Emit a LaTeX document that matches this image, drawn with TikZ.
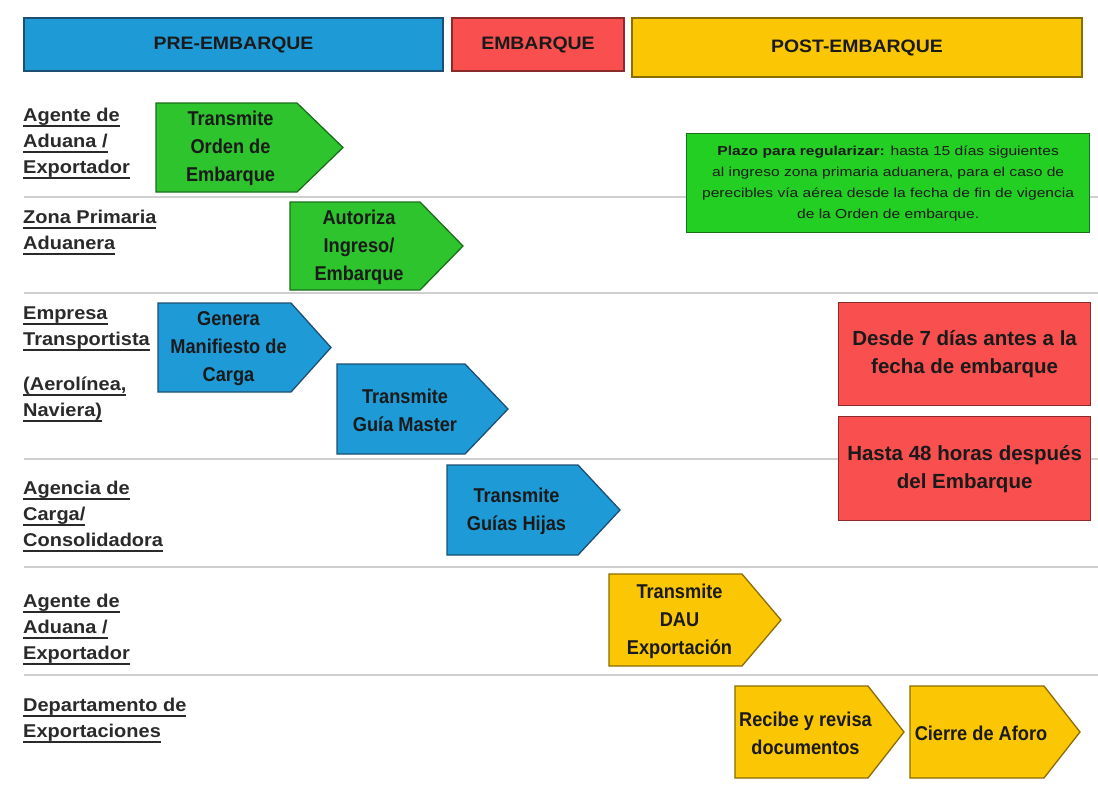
\documentclass[tikz,border=0pt]{standalone}
\usepackage{fontspec}
\setmainfont{Liberation Sans}[FakeStretch=1.08]
\newfontfamily\notefont{Liberation Sans}[FakeStretch=1.2]
\newfontfamily\stepfont{Liberation Sans}[FakeStretch=0.91]
\newfontfamily\boxfont{Liberation Sans}[FakeStretch=1.0]

% underlined word group, rule set below the descenders
\newcommand{\lineu}[1]{\setbox0\hbox{#1}\rlap{\rule[-5.5pt]{\wd0}{1.7pt}}\box0}

\definecolor{blueF}{HTML}{1E9BD7}
\definecolor{blueD}{HTML}{1C4F73}
\definecolor{greenF}{HTML}{2EC42E}
\definecolor{greenD}{HTML}{1B6E1B}
\definecolor{noteF}{HTML}{22CF22}
\definecolor{redF}{HTML}{F9504F}
\definecolor{redD}{HTML}{8A2A2A}
\definecolor{yellowF}{HTML}{FBC704}
\definecolor{yellowD}{HTML}{8A6D00}
\definecolor{inkC}{HTML}{1A1A1A}
\definecolor{laneC}{HTML}{2A2A2A}
\definecolor{ruleC}{HTML}{CFCFCF}

% pentagon step: name, style, left, top, body right, tip, bottom, text
\newcommand{\stepshape}[8]{%
  \draw[#2] (#3,#4) -- (#5,#4) -- (#6,{(#4+#7)/2}) -- (#5,#7) -- (#3,#7) -- cycle;
  \node[steptext] (#1) at ({(#3+#5)/2+4},{(#4+#7)/2+1}) {#8};
}

\begin{document}
\begin{tikzpicture}[x=1pt,y=-1pt,
  phase/.style={draw, line width=1.5pt, inner sep=0pt, outer sep=0pt, anchor=north west,
    text=inkC, font=\fontsize{18}{22}\selectfont\bfseries},
  lanerule/.style={draw=ruleC, line width=1.6pt},
  lanelabel/.style={anchor=base west, align=left, inner sep=0pt, text=laneC,
    font=\fontsize{18.5}{26}\selectfont\bfseries},
  steptext/.style={align=center, inner sep=0pt, text=inkC,
    font=\stepfont\fontsize{20}{28}\selectfont\bfseries},
  greenstep/.style={fill=greenF, draw=greenD, line width=1.3pt, line join=miter},
  bluestep/.style={fill=blueF, draw=blueD, line width=1.3pt, line join=miter},
  yellowstep/.style={fill=yellowF, draw=yellowD, line width=1.3pt, line join=miter},
  rednote/.style={fill=redF, draw=redD, line width=1.3pt, anchor=north west, inner sep=0pt,
    minimum width=252, align=center, text=inkC, font=\boxfont\fontsize{20.5}{28}\selectfont\bfseries},
]
\useasboundingbox (0,0) rectangle (1098,796);
\fill[white] (0,0) rectangle (1098,796);

% phase headers
\node[phase, fill=blueF, draw=blueD, minimum width=419, minimum height=53] (pre) at (24,18) {PRE-EMBARQUE};
\node[phase, fill=redF, draw=redD, minimum width=172, minimum height=53] (emb) at (452,18) {EMBARQUE};
\node[phase, fill=yellowF, draw=yellowD, minimum width=450, minimum height=59] (post) at (632,18) {POST-EMBARQUE};

% lane separators
\draw[lanerule] (24,197) -- (1098,197);
\draw[lanerule] (24,293) -- (1098,293);
\draw[lanerule] (24,459) -- (1098,459);
\draw[lanerule] (24,567) -- (1098,567);
\draw[lanerule] (24,675) -- (1098,675);

% lane labels (placed by the baseline of their last line)
\node[lanelabel] (l1) at (23,173) {\lineu{Agente de}\\\lineu{Aduana /}\\\lineu{Exportador}};
\node[lanelabel] (l2) at (23,249) {\lineu{Zona Primaria}\\\lineu{Aduanera}};
\node[lanelabel] (l3a) at (23,345) {\lineu{Empresa}\\\lineu{Transportista}};
\node[lanelabel] (l3b) at (23,416) {\lineu{(Aerolínea,}\\\lineu{Naviera)}};
\node[lanelabel] (l4) at (23,546) {\lineu{Agencia de}\\\lineu{Carga/}\\\lineu{Consolidadora}};
\node[lanelabel] (l5) at (23,659) {\lineu{Agente de}\\\lineu{Aduana /}\\\lineu{Exportador}};
\node[lanelabel] (l6) at (23,737) {\lineu{Departamento de}\\\lineu{Exportaciones}};

% process steps
\stepshape{s1}{greenstep}{156}{103}{297}{343}{192}{Transmite\\Orden de\\Embarque}
\stepshape{s2}{greenstep}{290}{202}{420}{463}{290}{Autoriza\\Ingreso/\\Embarque}
\stepshape{s3}{bluestep}{158}{303}{291}{331}{392}{Genera\\Manifiesto de\\Carga}
\stepshape{s4}{bluestep}{337}{364}{465}{508}{454}{Transmite\\Guía Master}
\stepshape{s5}{bluestep}{447}{465}{578}{620}{555}{Transmite\\Guías Hijas}
\stepshape{s6}{yellowstep}{609}{574}{742}{781}{666}{Transmite\\DAU\\Exportación}
\stepshape{s7}{yellowstep}{735}{686}{868}{904}{778}{Recibe y revisa\\documentos}
\stepshape{s8}{yellowstep}{910}{686}{1044}{1080}{778}{Cierre de Aforo}

% deadline notes
\node[fill=noteF, draw=greenD, line width=1.3pt, anchor=north west, inner sep=0pt,
  minimum width=403, minimum height=99, align=center, text=inkC,
  font=\notefont\fontsize{13}{21}\selectfont] (plazo) at (686,133)
  {\textbf{Plazo para regularizar:} hasta 15 días siguientes\\
   al ingreso zona primaria aduanera, para el caso de\\
   perecibles vía aérea desde la fecha de fin de vigencia\\
   de la Orden de embarque.};
\node[rednote, minimum height=103] (r1) at (838,302) {Desde 7 días antes a la\\fecha de embarque};
\node[rednote, minimum height=104] (r2) at (838,416) {Hasta 48 horas después\\del Embarque};
\end{tikzpicture}
\end{document}
